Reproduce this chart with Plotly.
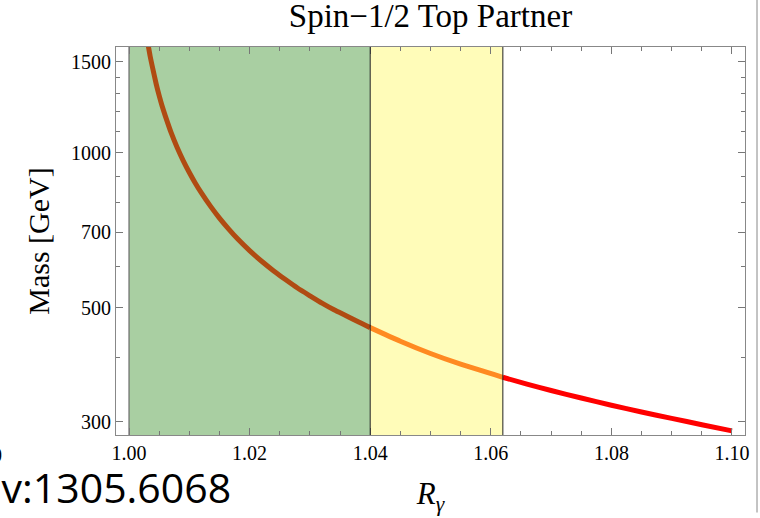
import plotly.graph_objects as go

# ---- data ----
r_gamma = [1.0029, 1.0035, 1.004, 1.0045, 1.005, 1.0055, 1.006, 1.007, 1.008, 1.009,
           1.010, 1.011, 1.012, 1.0135, 1.015, 1.0165, 1.018, 1.020, 1.022, 1.024,
           1.026, 1.028, 1.030, 1.032, 1.034, 1.036, 1.038, 1.040, 1.045, 1.050,
           1.055, 1.062, 1.066, 1.070, 1.075, 1.080, 1.085, 1.090, 1.095, 1.100]
mass = [1690, 1540, 1445, 1360, 1290, 1230, 1180, 1092, 1022, 964,
        915, 872, 835, 787, 746, 711, 680, 645, 615, 589,
        566, 545, 527, 510, 495, 482, 469, 457, 430, 407,
        388, 366, 355, 345, 333.5, 323, 313.3, 304.5, 296, 288]

green_band = [1.00, 1.04]
yellow_band = [1.04, 1.062]

x_major = [1.00, 1.02, 1.04, 1.06, 1.08, 1.10]
x_major_labels = ["1.00", "1.02", "1.04", "1.06", "1.08", "1.10"]
x_minor = [round(1.0 + 0.005 * i, 3) for i in range(21)]
y_major = [300, 500, 700, 1000, 1500]
y_major_labels = ["300", "500", "700", "1000", "1500"]
y_minor = [400, 600, 800, 900, 1100, 1200, 1300, 1400]

title_text = "Spin\u22121/2 Top Partner"
ylabel = "Mass [GeV]"
xlabel = "<i>R</i><sub><i>\u03b3</i></sub>"

# ---- styles ----
GREEN = "#a9cfa2"
YELLOW = "#fffcb9"
C_GREEN_SEG = "#b04b12"
C_YELLOW_SEG = "#ff8a22"
C_RED_SEG = "#ff0000"
SERIF = "Liberation Serif, Times New Roman, serif"


def segment(lo, hi):
    xs, ys = [], []
    for x, y in zip(r_gamma, mass):
        if lo - 1e-9 <= x <= hi + 1e-9:
            xs.append(x)
            ys.append(y)
    return xs, ys


fig = go.Figure()
for (lo, hi), col in [((0.0, green_band[1]), C_GREEN_SEG),
                      ((yellow_band[0], yellow_band[1]), C_YELLOW_SEG),
                      ((yellow_band[1], 2.0), C_RED_SEG)]:
    xs, ys = segment(lo, hi)
    fig.add_trace(go.Scatter(x=xs, y=ys, mode="lines",
                             line=dict(color=col, width=5, shape="spline", smoothing=0.6),
                             showlegend=False, hoverinfo="skip"))

# bands
fig.add_shape(type="rect", xref="x", yref="paper", x0=green_band[0], x1=green_band[1], y0=0, y1=1,
              fillcolor=GREEN, line=dict(width=0), layer="below")
fig.add_shape(type="rect", xref="x", yref="paper", x0=yellow_band[0], x1=yellow_band[1], y0=0, y1=1,
              fillcolor=YELLOW, line=dict(width=0), layer="below")
fig.add_shape(type="line", xref="x", yref="paper", x0=green_band[0], x1=green_band[0], y0=0, y1=1,
              line=dict(color="#6a6a6a", width=1.2), layer="below")
for xb in [green_band[1], yellow_band[1]]:
    fig.add_shape(type="line", xref="x", yref="paper", x0=xb, x1=xb, y0=0, y1=1,
                  line=dict(color="#222222", width=1), layer="above")

# slide border line on right
fig.add_shape(type="line", xref="paper", yref="paper", x0=1.0191, x1=1.0191, y0=-0.2, y1=1.2,
              line=dict(color="#b0b0b0", width=1.5))

W, H = 760, 518
L, R, T, B = 116, 15, 47, 83
PW, PH = W - L - R, H - T - B

fig.update_layout(
    width=W, height=H,
    margin=dict(l=L, r=R, t=T, b=B, pad=0),
    paper_bgcolor="white", plot_bgcolor="white",
    title=dict(text=title_text, x=0.5, xref="paper", xanchor="center",
               y=0.993, yref="container", yanchor="top",
               font=dict(family=SERIF, size=33, color="black")),
    xaxis=dict(range=[0.99784, 1.10216], tickmode="array", tickvals=x_major, ticktext=x_major_labels,
               ticks="inside", ticklen=7, tickcolor="#777", tickwidth=1,
               minor=dict(tickmode="array", tickvals=x_minor, ticks="inside", ticklen=4,
                          tickcolor="#777", tickwidth=1, showgrid=False),
               showline=True, linecolor="#888", linewidth=1, mirror="allticks",
               showgrid=False, zeroline=False,
               tickfont=dict(family=SERIF, size=20, color="black"),
               title=dict(text=xlabel, font=dict(family=SERIF, size=31, color="black"), standoff=19)),
    yaxis=dict(type="log", range=[2.4513, 3.2052], tickmode="array", tickvals=y_major,
               ticktext=y_major_labels,
               ticks="inside", ticklen=7, tickcolor="#777", tickwidth=1,
               minor=dict(tickmode="array", tickvals=y_minor, ticks="inside", ticklen=4,
                          tickcolor="#777", tickwidth=1, showgrid=False),
               showline=True, linecolor="#888", linewidth=1, mirror="allticks",
               showgrid=False, zeroline=False,
               tickfont=dict(family=SERIF, size=20, color="black"),
               title=dict(text=ylabel, font=dict(family=SERIF, size=30, color="black"), standoff=12)),
)

# slide leftovers: cut-off reference label and neighbouring tick label
fig.add_annotation(text="arXiv:1305.6068", xref="paper", yref="paper",
                   x=(233 - L) / PW, y=-(487 - T - PH) / PH,
                   xanchor="right", yanchor="middle", showarrow=False,
                   font=dict(family="Open Sans, Noto Sans, sans-serif", size=41, color="black"))
fig.add_annotation(text="1.10", xref="paper", yref="paper",
                   x=(4 - L) / PW, y=-(455 - T - PH) / PH,
                   xanchor="right", yanchor="middle", showarrow=False,
                   font=dict(family=SERIF, size=20, color="black"))

fig.write_html("out.html")
